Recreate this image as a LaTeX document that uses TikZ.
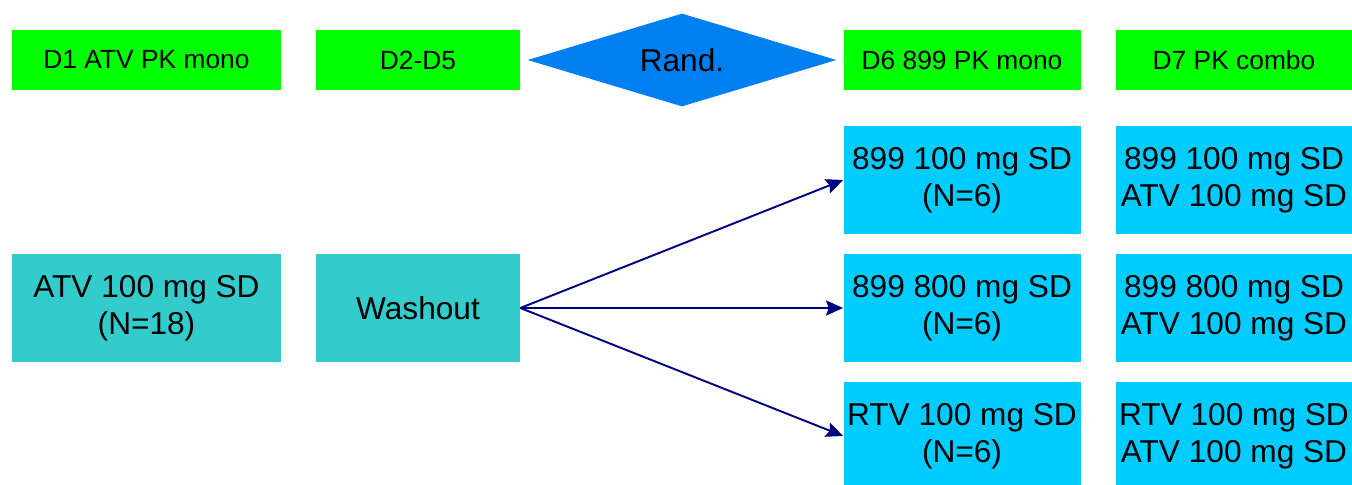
\documentclass[tikz,border=0pt]{standalone}
\usepackage{fontspec}
\setmainfont{Liberation Sans}
\usepackage{tikz}
\usetikzlibrary{arrows.meta,positioning,shapes.geometric}
\definecolor{daygreen}{HTML}{00FF00}
\definecolor{armteal}{HTML}{33CCCC}
\definecolor{armblue}{HTML}{00CCFF}
\definecolor{randblue}{HTML}{0080F0}
\definecolor{flownavy}{HTML}{000080}
\tikzset{
  dbox/.style={fill=daygreen,align=center,inner sep=0pt,minimum height=1.2cm,font=\fontsize{15}{18}\selectfont},
  tbox/.style={fill=armteal,align=center,inner sep=0pt,minimum height=2.16cm,minimum width=4.08cm,font=\fontsize{18}{20.8}\selectfont},
  abox/.style={tbox,fill=armblue,minimum width=4.74cm},
  flow/.style={-{Stealth[length=3.4mm,width=3mm,inset=0.5mm]},line width=1.1pt,color=flownavy},
}
\begin{document}
\begin{tikzpicture}[
  rnd/.style={diamond,fill=randblue,aspect=3.3,inner sep=0pt,minimum width=6.18cm,minimum height=1.86cm,font=\fontsize{18}{20.8}\selectfont}]
  \useasboundingbox (0,0) rectangle (27.04,9.7);
  % days
  \node[dbox,minimum width=5.38cm] (d1) at (2.93,8.5) {D1 ATV PK mono};
  \node[dbox,minimum width=4.08cm] (d25) at (8.36,8.5) {D2-D5};
  \node[rnd] (rand) at (13.64,8.5) {Rand.};
  \node[dbox,minimum width=4.74cm] (d6) at (19.24,8.5) {D6 899 PK mono};
  \node[dbox,minimum width=4.72cm] (d7) at (24.68,8.5) {D7 PK combo};
  % treatments
  \node[tbox,minimum width=5.38cm] (atv) at (2.93,3.54) {ATV 100 mg SD\\(N=18)};
  \node[tbox] (wash) at (8.36,3.54) {Washout};
  \node[abox] (arm1) at (19.24,6.1) {899 100 mg SD\\(N=6)};
  \node[abox] (arm2) at (19.24,3.54) {899 800 mg SD\\(N=6)};
  \node[abox] (arm3) at (19.24,0.98) {RTV 100 mg SD\\(N=6)};
  \node[abox,minimum width=4.72cm] (combo1) at (24.68,6.1) {899 100 mg SD\\ATV 100 mg SD};
  \node[abox,minimum width=4.72cm] (combo2) at (24.68,3.54) {899 800 mg SD\\ATV 100 mg SD};
  \node[abox,minimum width=4.72cm] (combo3) at (24.68,0.98) {RTV 100 mg SD\\ATV 100 mg SD};
  \foreach \x in {arm1,arm2,arm3} \draw[flow] (wash.east) -- (\x.west);
\end{tikzpicture}
\end{document}
